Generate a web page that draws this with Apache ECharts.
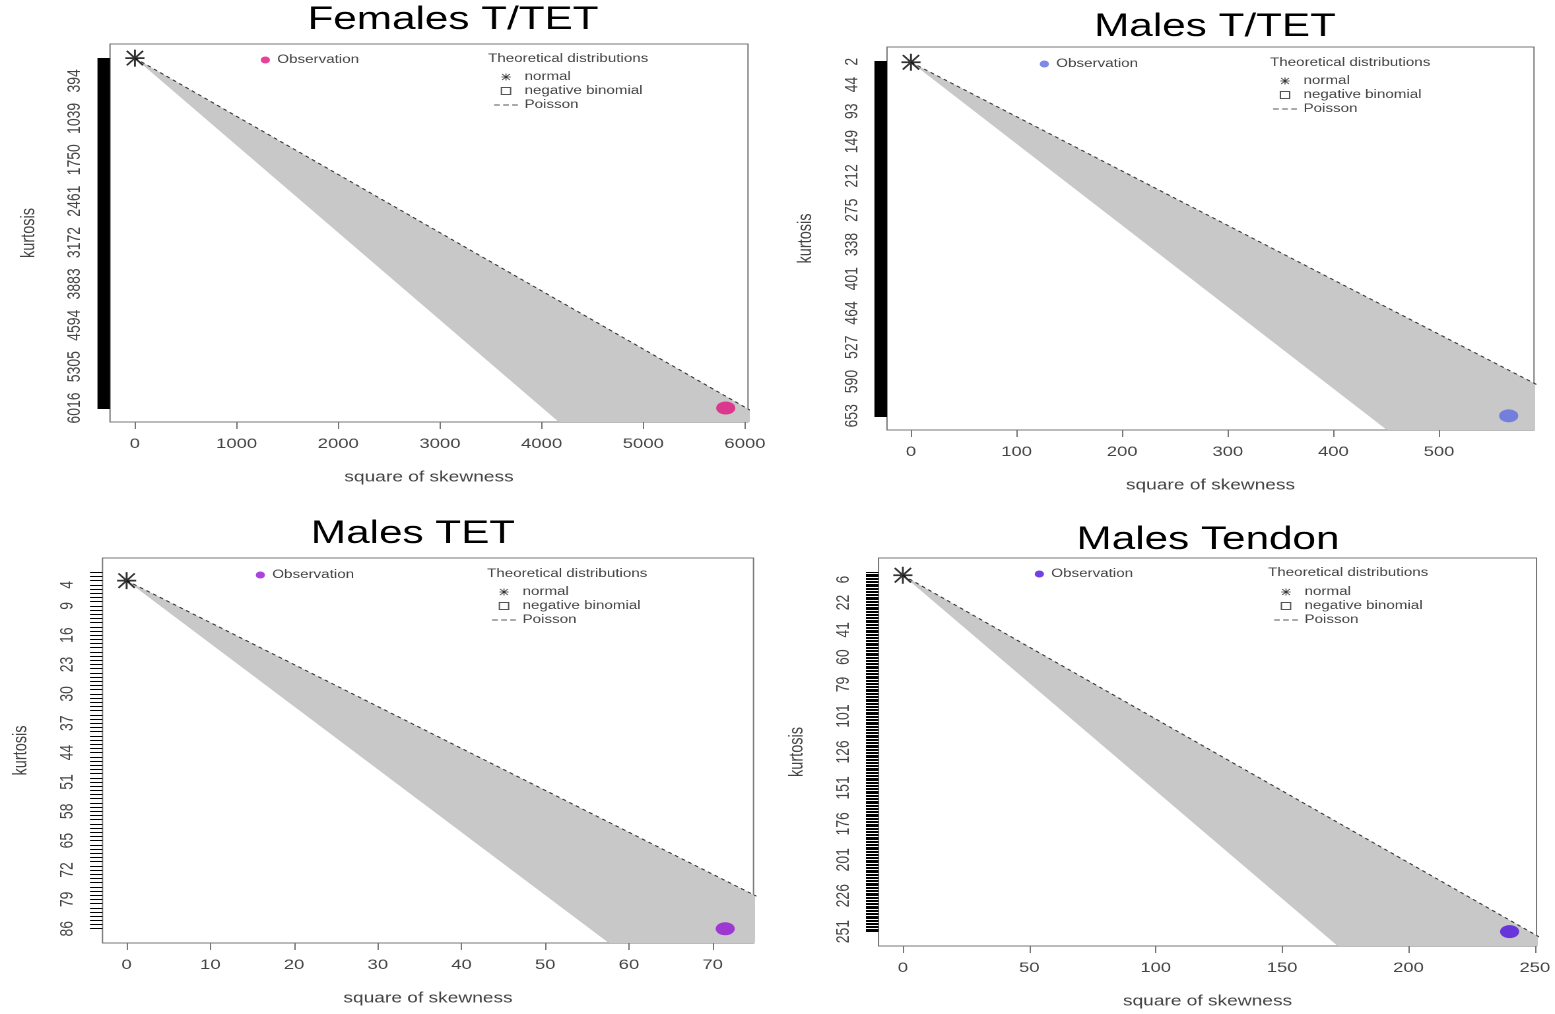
<!DOCTYPE html>
<html lang="en">
<head>
<meta charset="utf-8" />
<title>Cullen and Frey graphs</title>
<style>
  html, body { margin: 0; padding: 0; background: #fff; overflow: hidden; }
  /* the source picture is stretched sideways, so draw narrow and stretch the same way */
  #main { width: 1178px; height: 1014px; transform: scaleX(1.32); transform-origin: 0 0; }
</style>
<script src="https://cdn.jsdelivr.net/npm/echarts/dist/echarts.min.js"></script>
</head>
<body>
<div id="main"></div>
<script>
// ---- data ----
var panelTitles = ['Females T/TET', 'Males T/TET', 'Males TET', 'Males Tendon'];
var kurtMax = [6016, 653, 86, 251];
var obsSkew2 = [5811, 566, 71.5, 240];
var obsKurt = [6016, 653, 86, 251];
var obsColors = ['#e0137e', '#5f6be0', '#9214d2', '#5010e0'];
var normalPoint = [0, 3]; // [square of skewness, kurtosis]

var skewTicks = [
  [0, 1000, 2000, 3000, 4000, 5000, 6000],
  [0, 100, 200, 300, 400, 500],
  [0, 10, 20, 30, 40, 50, 60, 70],
  [0, 50, 100, 150, 200, 250]
];
var kurtLabels = [
  [6016, 5305, 4594, 3883, 3172, 2461, 1750, 1039, 394],
  [653, 590, 527, 464, 401, 338, 275, 212, 149, 93, 44, 2],
  [86, 79, 72, 65, 58, 51, 44, 37, 30, 23, 16, 9, 4],
  [251, 226, 201, 176, 151, 126, 101, 79, 60, 41, 22, 6]
];
// Poisson line end, [square of skewness, kurtosis], past the frame
var poissonEnd = [[6100, 6103], [600, 603], [76, 79], [255, 258]];
// negative binomial area vertices, [square of skewness, kurtosis]
var nbRegion = [
  [[0, 3], [6100, 6103], [6100, 6453], [4300, 6453]],
  [[0, 3], [600, 603], [600, 750], [498, 750]],
  [[0, 3], [76, 79], [76, 100], [64.67, 100]],
  [[0, 3], [255, 258], [255, 280], [184.67, 280]]
];

// ---- layout (pixels of the stretched picture) ----
var S = 1.32;
function px(x) { return x / S; }
var FONT = '"Liberation Sans", Arial, sans-serif';
var frames = [[110, 44, 748, 422], [887, 47, 1534, 430], [102.5, 558, 753.5, 943], [878.5, 558, 1536.5, 946]];
var xLim = [[-245, 6030], [-22.7, 590], [-2.88, 74.88], [-9.64, 250.64]];
var yLim = [[-240.6, 6255.6], [-26.08, 678.08], [-3.4, 88.4], [-10, 260]];
var titlePos = [[453, 20], [1215, 27], [413, 534], [1208, 540]];
var obsKey = [[266, 60], [1045, 64], [261, 575], [1040, 574]];
var theoKey = [[488, 60, 506, 77], [1270, 64, 1285, 81], [487, 575, 504, 592], [1268, 574, 1286, 592]];

var STAR = 'path://M9 0H11V20H9Z M0 9H20V11H0Z M2.2 0.8L19.2 17.8L17.8 19.2L0.8 2.2Z M17.8 0.8L19.2 2.2L2.2 19.2L0.8 17.8Z';
var SQUARE = 'path://M0 0H10V10H0Z';
var DASHES = 'path://M0 0H5V1.2H0Z M8 0H13V1.2H8Z M16 0H21V1.2H16Z';

var myChart = echarts.init(document.getElementById('main'), null, { renderer: 'canvas', devicePixelRatio: 2 });
var option = { animation: false, backgroundColor: '#fff', title: [], legend: [], grid: [], xAxis: [], yAxis: [], series: [] };

panelTitles.forEach(function (name, i) {
  var f = frames[i];
  var km = kurtMax[i];
  // one tick per kurtosis unit, like the R plot
  var dense = [];
  for (var t = 0; t <= km - 1; t++) dense.push(t);

  option.title.push({
    text: name, left: px(titlePos[i][0]), top: titlePos[i][1] - 16, textAlign: 'center', padding: 0,
    textStyle: { fontSize: 32, fontWeight: 'normal', color: '#000', fontFamily: FONT }
  });
  option.title.push({
    text: 'Theoretical distributions', left: px(theoKey[i][0]), top: theoKey[i][1] - 7, padding: 0,
    textStyle: { fontSize: 11.5, fontWeight: 'normal', color: '#444', fontFamily: FONT }
  });

  option.legend.push({
    left: px(obsKey[i][0]) - 4, top: obsKey[i][1] - 6, padding: 0, itemWidth: 8, itemHeight: 7,
    selectedMode: false, textStyle: { fontSize: 11.5, color: '#444', fontFamily: FONT },
    data: [{ name: 'Observation', icon: 'circle', itemStyle: { color: obsColors[i] } }]
  });
  option.legend.push({
    orient: 'vertical', left: px(theoKey[i][2]) - 9, top: theoKey[i][3] - 6, padding: 0,
    itemWidth: 18, itemHeight: 7, itemGap: 2, selectedMode: false,
    textStyle: { fontSize: 11.5, color: '#444', fontFamily: FONT, lineHeight: 12 },
    data: [
      { name: 'normal', icon: STAR, itemStyle: { color: '#000' } },
      { name: 'negative binomial', icon: SQUARE, itemStyle: { color: 'transparent', borderColor: '#555', borderWidth: 1 } },
      { name: 'Poisson', icon: DASHES, itemStyle: { color: '#555' } }
    ]
  });

  option.grid.push({
    left: px(f[0]), top: f[1], width: px(f[2] - f[0]), height: f[3] - f[1],
    show: true, borderColor: '#777', borderWidth: 1, backgroundColor: '#fff',
    containLabel: false, outerBoundsMode: 'none'
  });

  option.xAxis.push({
    type: 'value', gridIndex: i, min: xLim[i][0], max: xLim[i][1], position: 'bottom',
    name: 'square of skewness', nameLocation: 'middle', nameGap: 48,
    nameTextStyle: { fontSize: 14.5, color: '#444', fontFamily: FONT },
    axisLine: { show: false, onZero: false }, splitLine: { show: false },
    axisTick: { show: true, customValues: skewTicks[i], length: 7, lineStyle: { color: '#777' } },
    axisLabel: {
      customValues: skewTicks[i], margin: 15, fontSize: 14, color: '#444', fontFamily: FONT,
      formatter: function (v) { return String(v); }
    }
  });

  option.yAxis.push({
    type: 'value', gridIndex: i, min: yLim[i][0], max: yLim[i][1], position: 'left',
    name: 'kurtosis', nameLocation: 'middle', nameGap: 54, nameRotate: 90,
    nameTextStyle: { fontSize: 14.5, color: '#444', fontFamily: FONT },
    axisLine: { show: false, onZero: false }, splitLine: { show: false },
    axisTick: { show: true, customValues: dense, length: 9.5, lineStyle: { color: '#000', width: 1 } },
    axisLabel: {
      customValues: kurtLabels[i].map(function (k) { return km - k; }),
      formatter: function (v) { return String(Math.round(km - v)); },
      rotate: 90, margin: 19.5, fontSize: 14, color: '#444', fontFamily: FONT
    }
  });

  var region = nbRegion[i].map(function (p) { return [p[0], km - p[1]]; });
  option.series.push({
    type: 'custom', name: 'negative binomial', xAxisIndex: i, yAxisIndex: i, clip: true, silent: true,
    data: region, itemStyle: { color: '#c8c8c8' },
    renderItem: function (params, api) {
      if (params.dataIndex !== 0) return null;
      return {
        type: 'polygon',
        shape: { points: region.map(function (p) { return api.coord(p); }) },
        style: { fill: '#c8c8c8' }
      };
    }
  });
  option.series.push({
    type: 'line', name: 'Poisson', xAxisIndex: i, yAxisIndex: i, clip: true, silent: true,
    data: [[normalPoint[0], km - normalPoint[1]], [poissonEnd[i][0], km - poissonEnd[i][1]]],
    symbol: 'none', lineStyle: { color: '#333', width: 1, type: [3, 3] }
  });
  option.series.push({
    type: 'scatter', name: 'normal', xAxisIndex: i, yAxisIndex: i, silent: true, z: 5,
    data: [[normalPoint[0], km - normalPoint[1]]],
    symbol: STAR, symbolSize: [14.5, 17], itemStyle: { color: '#000' }
  });
  option.series.push({
    type: 'scatter', name: 'Observation', xAxisIndex: i, yAxisIndex: i, silent: true, z: 6,
    data: [[obsSkew2[i], km - obsKurt[i]]],
    symbol: 'circle', symbolSize: [14.5, 13], itemStyle: { color: obsColors[i] }
  });
});

myChart.setOption(option);
</script>
</body>
</html>
